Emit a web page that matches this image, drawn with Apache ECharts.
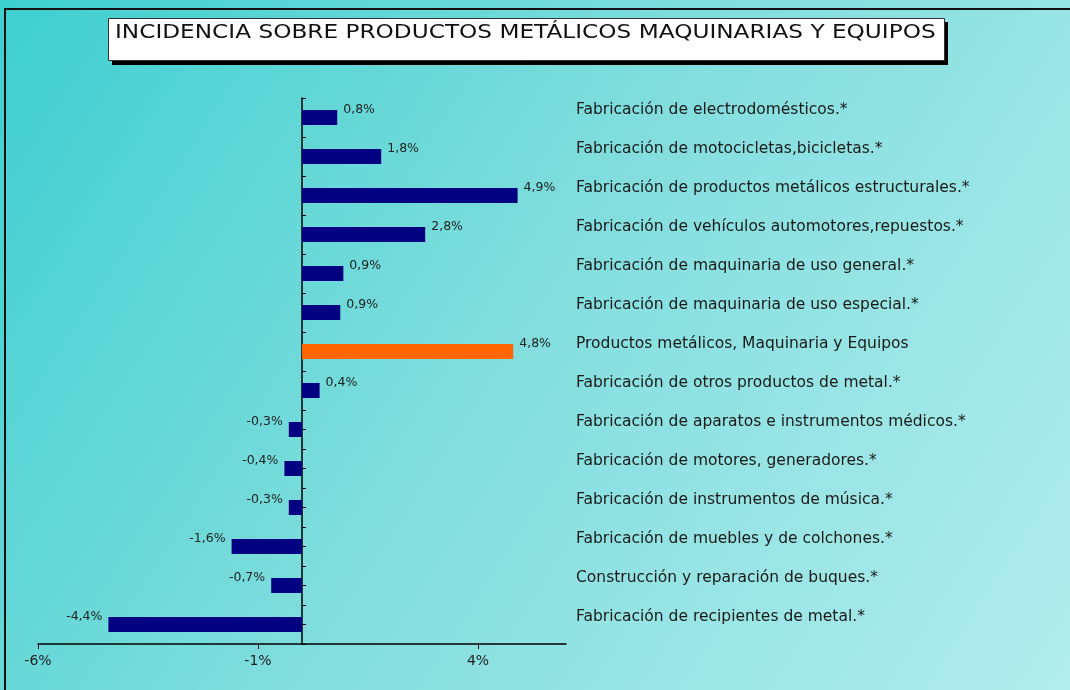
<!DOCTYPE html>
<html>
<head>
<meta charset="utf-8">
<script src="https://cdn.jsdelivr.net/npm/echarts@6/dist/echarts.min.js"></script>
<style>
    html, body { margin: 0; padding: 0; }
    #chart { width: 1070px; height: 690px; }
</style>
</head>
<body>
<div id="chart"></div>
<script>
    /*datos*/
    var categories = [
        'Fabricación de electrodomésticos.*',
        'Fabricación de motocicletas,bicicletas.*',
        'Fabricación de productos metálicos estructurales.*',
        'Fabricación de vehículos automotores,repuestos.*',
        'Fabricación de maquinaria de uso general.*',
        'Fabricación de maquinaria de uso especial.*',
        'Productos metálicos, Maquinaria y Equipos',
        'Fabricación de otros productos de metal.*',
        'Fabricación de aparatos e instrumentos médicos.*',
        'Fabricación de motores, generadores.*',
        'Fabricación de instrumentos de música.*',
        'Fabricación de muebles y de colchones.*',
        'Construcción y reparación de buques.*',
        'Fabricación de recipientes de metal.*'
    ];
    var values = [0.8, 1.8, 4.9, 2.8, 0.94, 0.87, 4.8, 0.4, -0.3, -0.4, -0.3, -1.6, -0.7, -4.4];
    var highlightIndex = 6;
    var xTicks = [-6, -1, 4];

    var chart = echarts.init(document.getElementById('chart'));
    var fontName = 'DejaVu Sans';

    var option = {
        backgroundColor: {
            type: 'linear', x: 0, y: 0, x2: 1, y2: 1,
            colorStops: [
                { offset: 0, color: '#3ecfcf' },
                { offset: 0.5, color: '#84dede' },
                { offset: 1, color: '#b2eded' }
            ]
        },
        animation: false,
        graphic: [
            {
                type: 'rect', z: 100,
                shape: { x: 5, y: 9, width: 1200, height: 800 },
                style: { fill: 'none', stroke: '#111', lineWidth: 2 }
            },
            /*sombra del titulo*/
            {
                type: 'rect', z: 100,
                shape: { x: 112, y: 22, width: 836, height: 43 },
                style: { fill: '#000' }
            },
            {
                type: 'rect', z: 101,
                shape: { x: 108.5, y: 18.5, width: 836, height: 42 },
                style: { fill: '#fff', stroke: '#333', lineWidth: 1 }
            },
            {
                type: 'text', z: 102,
                x: 115, y: 23, scaleX: 1.16,
                style: {
                    text: 'INCIDENCIA SOBRE PRODUCTOS METÁLICOS MAQUINARIAS Y EQUIPOS',
                    font: '20px "DejaVu Sans"', fill: '#111'
                }
            }
        ],
        grid: { left: 38, right: 504, top: 98, bottom: 46, containLabel: false },
        xAxis: {
            type: 'value', min: -6, max: 6, interval: 5,
            axisLine: { show: true, lineStyle: { color: '#000', width: 1.5 } },
            axisTick: { show: true, length: 5, customValues: xTicks, lineStyle: { color: '#000' } },
            axisLabel: {
                customValues: xTicks, margin: 10, fontFamily: fontName, fontSize: 14, color: '#222',
                formatter: function (v) { return v + '%'; }
            },
            splitLine: { show: false }
        },
        yAxis: [
            {
                type: 'category', data: categories, inverse: true,
                axisLine: { show: true, onZero: true, onZeroAxisIndex: 0, lineStyle: { color: '#000', width: 1.5 } },
                axisTick: { show: true, inside: true, length: 4, lineStyle: { color: '#000' } },
                axisLabel: { show: false }
            },
            {
                type: 'category', data: categories, inverse: true, position: 'left',
                axisLine: { show: true, onZero: true, onZeroAxisIndex: 0, lineStyle: { color: 'rgba(0,0,0,0)' } },
                axisTick: { show: true, inside: true, alignWithLabel: true, length: 4, lineStyle: { color: '#000' } },
                axisLabel: { show: false }
            },
            {
                type: 'category', data: categories, inverse: true, position: 'right',
                axisLine: { show: false, onZero: false },
                axisTick: { show: false },
                axisLabel: {
                    align: 'left', verticalAlign: 'bottom', margin: 10,
                    fontFamily: fontName, fontSize: 15.5, color: '#1a1a1a'
                }
            }
        ],
        series: [
            {
                type: 'bar',
                yAxisIndex: 0,
                barWidth: 15,
                data: values.map(function (v, i) {
                    return {
                        value: v,
                        itemStyle: { color: i === highlightIndex ? '#ff6600' : '#000080' },
                        label: { position: v < 0 ? 'left' : 'right' }
                    };
                }),
                label: {
                    show: true, distance: 6, offset: [0, -8],
                    fontFamily: fontName, fontSize: 12.5, color: '#222',
                    formatter: function (p) { return p.value.toFixed(1).replace('.', ',') + '%'; }
                }
            }
        ]
    };
    chart.setOption(option);
</script>
</body>
</html>
